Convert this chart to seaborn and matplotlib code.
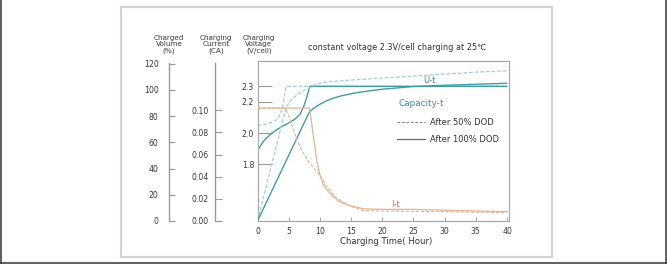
import numpy as np
import pandas as pd
import seaborn as sns
import matplotlib
matplotlib.use('Agg')
import matplotlib.pyplot as plt
from matplotlib.lines import Line2D
from matplotlib.patches import Rectangle

# charging time (hours) and readings
volt_t_50 = [0, 1, 2, 3, 3.5, 4, 4.3, 4.6, 40]
volt_50 = [2.05, 2.055, 2.065, 2.085, 2.11, 2.16, 2.23, 2.30, 2.30]
volt_t_100 = [0, 1, 2, 3, 4, 5, 6, 6.8, 7.4, 7.9, 8.4, 40]
volt_100 = [1.89, 1.95, 1.99, 2.02, 2.045, 2.065, 2.09, 2.12, 2.17, 2.23, 2.30, 2.30]

cap_t_50 = [0, 4.6, 5.5, 7, 8.5, 9.5, 11, 15, 20, 25, 30, 35, 40]
cap_50 = [0, 87, 93, 98.5, 102, 104.5, 106, 107.5, 109, 110.5, 112, 113.5, 114.5]
cap_t_100 = [0, 8.3, 9, 10, 11, 12, 13.5, 16, 20, 25, 30, 40]
cap_100 = [0, 83, 86, 89, 91.5, 93.5, 95.5, 98, 100.5, 102.5, 103.5, 105]

cur_t_50 = [0, 4.5, 5, 5.5, 6.3, 7, 8, 9, 9.8, 11, 12.4, 13.5, 15, 17, 20, 30, 40]
cur_50 = [0.102, 0.102, 0.095, 0.087, 0.073, 0.065, 0.055, 0.048, 0.043, 0.032,
          0.022, 0.018, 0.013, 0.0095, 0.009, 0.0085, 0.0075]
cur_t_100 = [0, 8.3, 8.6, 9, 9.5, 10, 10.6, 11.6, 13, 14.7, 17, 20, 25, 30, 35, 40]
cur_100 = [0.102, 0.102, 0.092, 0.075, 0.055, 0.042, 0.032, 0.025, 0.018, 0.014,
           0.011, 0.0105, 0.0105, 0.0098, 0.009, 0.0085]

volume_ticks = [0, 20, 40, 60, 80, 100, 120]
current_ticks = [0.00, 0.02, 0.04, 0.06, 0.08, 0.10]
voltage_ticks = [1.8, 2.0, 2.2, 2.3]
time_ticks = [0, 5, 10, 15, 20, 25, 30, 35, 40]


def frame(t50, y50, t100, y100):
    a = pd.DataFrame({'t': t50, 'y': y50, 'dod': '50'})
    b = pd.DataFrame({'t': t100, 'y': y100, 'dod': '100'})
    return pd.concat([a, b], ignore_index=True)


sns.set_theme(style='white')
plt.rcParams['font.family'] = ['DejaVu Sans']

W, H = 667, 264
fig = plt.figure(figsize=(W / 100, H / 100), dpi=100)
fig.patch.set_facecolor('white')

# outer frame and the light panel
fig.add_artist(Line2D([1.5 / W, 1.5 / W], [0, 1], color='#444444', lw=1.2))
fig.add_artist(Line2D([665.5 / W, 665.5 / W], [0, 1], color='#444444', lw=1.2))
fig.add_artist(Line2D([0, 1], [1.5 / H, 1.5 / H], color='#444444', lw=1.2))
fig.add_artist(Rectangle((121 / W, 7 / H), 431 / W, 250 / H, fill=False,
                         edgecolor='#d4d4d4', lw=1.6))

ax = fig.add_axes([257.5 / W, 43 / H, 251 / W, 160 / H])
ax_vol = ax.twinx()
ax_cur = ax.twinx()

gray = '#9a9a9a'
txt = '#3a3a3a'
teal = '#3f9ea3'
teal_light = '#9fd2d4'
tan = '#e2b48f'

v = frame(volt_t_50, volt_50, volt_t_100, volt_100)
sns.lineplot(data=v[v.dod == '50'], x='t', y='y', color=teal_light, lw=0.9,
             dashes=(3, 1.5), ax=ax, legend=False)
sns.lineplot(data=v[v.dod == '100'], x='t', y='y', color=teal, lw=1.0,
             ax=ax, legend=False)

c = frame(cap_t_50, cap_50, cap_t_100, cap_100)
sns.lineplot(data=c[c.dod == '50'], x='t', y='y', color=teal_light, lw=0.9,
             dashes=(3, 1.5), ax=ax_vol, legend=False)
sns.lineplot(data=c[c.dod == '100'], x='t', y='y', color=teal, lw=1.0,
             ax=ax_vol, legend=False)

i = frame(cur_t_50, cur_50, cur_t_100, cur_100)
sns.lineplot(data=i[i.dod == '50'], x='t', y='y', color=tan, lw=0.8,
             dashes=(3, 1.5), ax=ax_cur, legend=False)
sns.lineplot(data=i[i.dod == '100'], x='t', y='y', color=tan, lw=0.9,
             ax=ax_cur, legend=False)

ax.set_xlim(0, 40.24)
ax.set_ylim(1.438, 2.462)
ax_vol.set_ylim(0, 122)
ax_cur.set_ylim(0, 0.1445)

fs = 5.6
for a in (ax, ax_vol, ax_cur):
    a.set_xlabel('')
    a.set_ylabel('')
    a.grid(False)

for s in ax.spines.values():
    s.set_color('#a8a8a8')
    s.set_linewidth(0.9)
ax.set_xticks(time_ticks)
ax.set_xticklabels([str(t) for t in time_ticks])
ax.set_yticks(voltage_ticks)
ax.set_yticklabels(['1.8', '2.0', '2.2', '2.3'])
ax.tick_params(axis='x', direction='in', length=3, width=0.6, color=gray,
               labelsize=fs, labelcolor=txt, pad=4, bottom=True)
ax.tick_params(axis='y', direction='in', length=10, width=0.8, color=gray,
               labelsize=fs, labelcolor=txt, pad=2.5, left=True)

for a, off, top, ticks, labels, tlen, pad in (
        (ax_vol, 257.5 - 169, 120.5, volume_ticks,
         [str(t) for t in volume_ticks], 4.5, 7.5),
        (ax_cur, 257.5 - 215, 0.1427, current_ticks,
         ['%.2f' % t for t in current_ticks], 5, 4.5)):
    a.yaxis.tick_left()
    for name in ('right', 'top', 'bottom'):
        a.spines[name].set_visible(False)
    a.spines['left'].set_position(('outward', off * 0.72))
    a.spines['left'].set_bounds(0, top)
    a.spines['left'].set_color(gray)
    a.spines['left'].set_linewidth(1.0)
    a.set_yticks(ticks)
    a.set_yticklabels(labels)
    a.tick_params(axis='y', direction='in', length=tlen, width=0.8,
                  color=gray, labelsize=fs, labelcolor=txt, pad=pad,
                  left=True, right=False)

# column headings
for x, words in ((169, 'Charged\nVolume\n(%)'), (216, 'Charging\nCurrent\n(CA)'),
                 (259, 'Charging\nVoltage\n(V/cell)')):
    fig.text(x / W, 1 - 44.5 / H, words, ha='center', va='center', fontsize=5.2,
             color=txt, linespacing=1.12)

fig.text(397 / W, 1 - 47 / H, 'constant voltage 2.3V/cell charging at 25\u2103',
         ha='center', va='center', fontsize=5.85, color='#333333')
fig.text(386 / W, 1 - 242 / H, 'Charging Time( Hour)', ha='center',
         va='center', fontsize=6.1, color='#333333')

# curve names
ax.text(27.5, 2.335, 'U-t', fontsize=6, color='#3d8f95', ha='center', va='center')
ax.text(26.3, 2.19, 'Capacity-t', fontsize=6.4, color='#3a8cc4', ha='center', va='center')
ax.text(22.2, 1.545, 'I-t', fontsize=6, color='#c8784a', ha='center', va='center')

handles = [Line2D([], [], color='#8a8a8a', lw=0.8, dashes=(2.5, 1.5)),
           Line2D([], [], color='#6a6a6a', lw=0.9)]
leg = ax.legend(handles, ['After 50% DOD', 'After 100% DOD'], loc='upper left',
                bbox_to_anchor=(0.556, 0.645), frameon=False, fontsize=6,
                handlelength=3.4, handletextpad=0.6, labelspacing=1.0,
                borderpad=0, borderaxespad=0)
for t in leg.get_texts():
    t.set_color('#333333')

fig.savefig('out.png', dpi=100, facecolor='white')
